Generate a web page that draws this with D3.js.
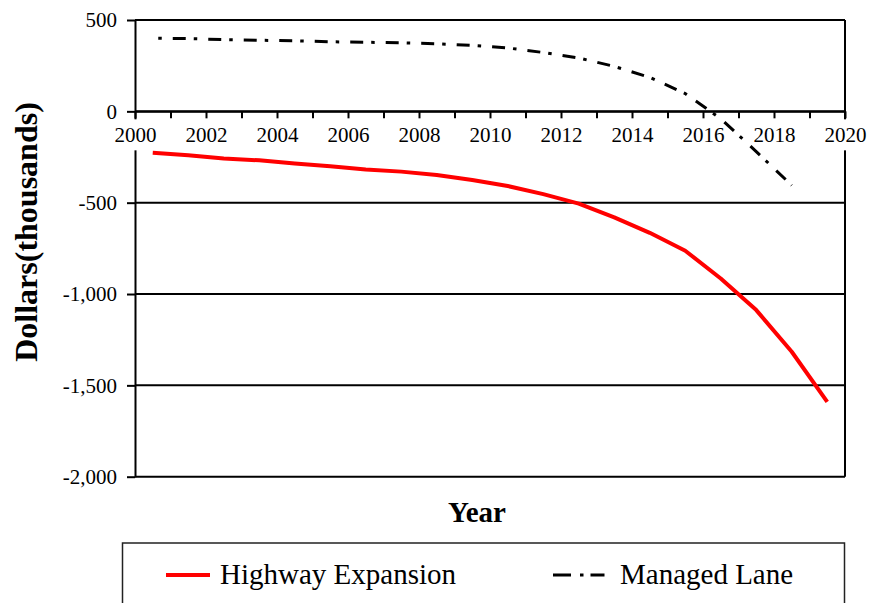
<!DOCTYPE html>
<html>
<head>
<meta charset="utf-8">
<script src="https://cdn.jsdelivr.net/npm/d3@7"></script>
<style>
body{margin:0;background:#fff;}
svg{display:block;}
</style>
</head>
<body>
<div id="chart"></div>
<script>
// data (thousands of dollars)
const years = [2001,2002,2003,2004,2005,2006,2007,2008,2009,2010,2011,2012,2013,2014,2015,2016,2017,2018,2019,2020];
const highwayExpansion = [-227,-240,-258,-268,-286,-300,-318,-330,-349,-376,-409,-453,-505,-580,-665,-763,-915,-1088,-1316,-1590];
const managedLane = [401,398,393,389,386,381,378,375,370,361,347,322,292,246,186,97,-40,-220,-405];
const tickYears = [2000,2001,2002,2003,2004,2005,2006,2007,2008,2009,2010,2011,2012,2013,2014,2015,2016,2017,2018,2019,2020];
const labelYears = [2000,2002,2004,2006,2008,2010,2012,2014,2016,2018,2020];
const yTicks = [500,0,-500,-1000,-1500,-2000];
const seriesNames = ["Highway Expansion","Managed Lane"];

let width = 870;
let height = 603;
let plotLeft = 135, plotRight = 845, plotTop = 20, plotBottom = 476.7;
let font = "Liberation Serif, Times New Roman, serif";

let svg = d3.select("#chart").append("svg")
	.attr("width", width)
	.attr("height", height)
	.attr("font-family", font);

svg.append("rect")
	.attr("width", width)
	.attr("height", height)
	.attr("fill", "white");

let xScale = d3.scaleLinear().domain([2000,2020]).range([plotLeft,plotRight]);
let yScale = d3.scaleLinear().domain([-2000,500]).range([plotBottom,plotTop]);

let fmt = d3.formatLocale({decimal:".", thousands:",", grouping:[3], currency:["$",""], minus:"-"}).format(",");

// horizontal grid lines
svg.append("g").selectAll("line")
	.data(yTicks)
	.enter().append("line")
	.attr("x1", plotLeft).attr("x2", plotRight)
	.attr("y1", d=>yScale(d)).attr("y2", d=>yScale(d))
	.attr("stroke", "black")
	.attr("stroke-width", 2);

// right border
svg.append("line")
	.attr("x1", plotRight).attr("x2", plotRight)
	.attr("y1", plotTop).attr("y2", plotBottom)
	.attr("stroke", "black")
	.attr("stroke-width", 2);

let yAxis = d3.axisLeft(yScale)
	.tickValues(yTicks)
	.tickSize(8)
	.tickSizeOuter(0)
	.tickPadding(10)
	.tickFormat(fmt);

let gy = svg.append("g")
	.attr("transform", `translate(${plotLeft},0)`)
	.call(yAxis);
gy.attr("font-size", 21).attr("font-family", null);
gy.selectAll("path,line").attr("stroke", "black").attr("stroke-width", 2);
gy.selectAll("text").attr("fill", "black");

let xAxis = d3.axisBottom(xScale)
	.tickValues(tickYears)
	.tickSize(7)
	.tickSizeOuter(0)
	.tickPadding(8.5)
	.tickFormat(d => labelYears.includes(d) ? d : "");

let gx = svg.append("g")
	.attr("transform", `translate(0,${yScale(0)})`)
	.call(xAxis);
gx.attr("font-size", 21).attr("font-family", null);
gx.selectAll("path,line").attr("stroke", "black").attr("stroke-width", 2);
gx.selectAll("text").attr("fill", "black");
// white boxes behind the year labels hide the axis lines under them
gx.selectAll(".tick").each(function(d){
	if(!labelYears.includes(d)) return;
	let t = d3.select(this).select("text");
	let b = t.node().getBBox();
	d3.select(this).insert("rect", "text")
		.attr("x", b.x - 2).attr("y", 8)
		.attr("width", b.width + 4).attr("height", 31)
		.attr("fill", "white");
});

let line = d3.line()
	.x((d,i)=>xScale(years[i] - 0.5))
	.y(d=>yScale(d));

svg.append("path")
	.datum(highwayExpansion)
	.attr("d", line)
	.attr("fill", "none")
	.attr("stroke", "#ff0000")
	.attr("stroke-width", 4)
	.attr("stroke-linejoin", "round");

svg.append("path")
	.datum(managedLane)
	.attr("d", line)
	.attr("fill", "none")
	.attr("stroke", "black")
	.attr("stroke-width", 3)
	.attr("stroke-dasharray", "13,8,3.5,11")
	.attr("stroke-dashoffset", 15.5);

// axis titles
svg.append("text")
	.text("Year")
	.attr("x", 477).attr("y", 522)
	.attr("text-anchor", "middle")
	.attr("font-weight", "bold")
	.attr("font-size", 29);

svg.append("text")
	.text("Dollars(thousands)")
	.attr("transform", "translate(37,232) rotate(-90)")
	.attr("text-anchor", "middle")
	.attr("font-weight", "bold")
	.attr("font-size", 32);

// legend
svg.append("rect")
	.attr("x", 122.5).attr("y", 543)
	.attr("width", 722).attr("height", 80)
	.attr("fill", "none")
	.attr("stroke", "#222")
	.attr("stroke-width", 1.5);

let legendItems = [
	{name: seriesNames[0], x: 166, color: "#ff0000", w: 4, dash: null},
	{name: seriesNames[1], x: 553, color: "black", w: 3, dash: "18,9,3.5,7,14"}
];

let lg = svg.append("g").selectAll("g")
	.data(legendItems)
	.enter().append("g");

lg.append("line")
	.attr("x1", d=>d.x).attr("x2", d=>d.x + (d.dash ? 52 : 44))
	.attr("y1", 575).attr("y2", 575)
	.attr("stroke", d=>d.color)
	.attr("stroke-width", d=>d.w)
	.attr("stroke-dasharray", d=>d.dash);

lg.append("text")
	.text(d=>d.name)
	.attr("x", d=>d.x + (d.dash ? 67 : 54))
	.attr("y", 584)
	.attr("font-size", 29);
</script>
</body>
</html>
